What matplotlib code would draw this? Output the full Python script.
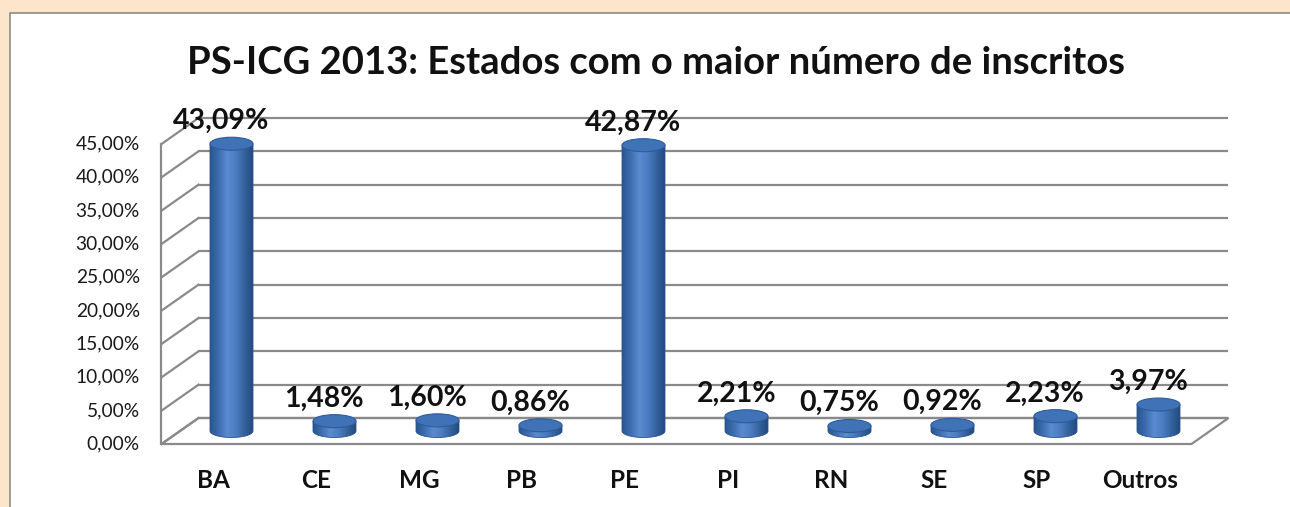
import numpy as np
import matplotlib
matplotlib.use("Agg")
import matplotlib.pyplot as plt
from matplotlib.patches import Ellipse, Polygon, Rectangle, PathPatch
from matplotlib.path import Path
from matplotlib.lines import Line2D
from matplotlib.colors import LinearSegmentedColormap

# ---- data ----
categories = ["BA", "CE", "MG", "PB", "PE", "PI", "RN", "SE", "SP", "Outros"]
values = [43.09, 1.48, 1.60, 0.86, 42.87, 2.21, 0.75, 0.92, 2.23, 3.97]
value_labels = ["43,09%", "1,48%", "1,60%", "0,86%", "42,87%", "2,21%",
                "0,75%", "0,92%", "2,23%", "3,97%"]
yticks = [0, 5, 10, 15, 20, 25, 30, 35, 40, 45]
ytick_labels = ["0,00%", "5,00%", "10,00%", "15,00%", "20,00%", "25,00%",
                "30,00%", "35,00%", "40,00%", "45,00%"]
title = "PS-ICG 2013: Estados com o maior número de inscritos"

# ---- style ----
FONT = ["Lato", "DejaVu Sans"]
W, H = 1290, 507
fig = plt.figure(figsize=(W / 100, H / 100), dpi=100)
fig.patch.set_facecolor("#FDE5CB")

# white chart area (border only on top and left, like the reference)
bx, by = 10 / W, 1 - 13 / H
fig.patches.append(Rectangle((bx, -0.1), 1.2, by + 0.1,
                             transform=fig.transFigure, facecolor="white",
                             edgecolor="none", zorder=-5))
fig.lines.append(Line2D([bx, bx, 1.0], [0, by, by], transform=fig.transFigure,
                        color="#8C8C8C", linewidth=1.2, zorder=-4))

ax = fig.add_axes([0, 0, 1, 1])
ax.set_facecolor("none")
ax.set_zorder(1)
ax.axis("off")
# pixel mapping: category i at x = 213 + 103*i ; 0% at y=444, 45% at y=144
px_per_cat = 103.0
px_per_pct = 300.0 / 45.0
XLIM = (-213 / px_per_cat, (W - 213) / px_per_cat)
YLIM = (-(H - 444) / px_per_pct, 444 / px_per_pct)

n = len(categories)
x0, x1 = -0.5, n - 0.5
ddx, ddy = 37 / px_per_cat, 26 / px_per_pct  # depth offset
grid_c = "#8A8A8A"
lw = 1.6

# floor
ax.add_patch(Polygon([(x0, 0), (x1, 0), (x1 + ddx, ddy), (x0 + ddx, ddy)],
                     closed=True, facecolor="white", edgecolor=grid_c,
                     linewidth=lw, zorder=1))
# back wall grid + side wall diagonals
for t in yticks:
    ax.plot([x0 + ddx, x1 + ddx], [t + ddy, t + ddy], color=grid_c, lw=lw,
            zorder=1, solid_capstyle="butt")
    ax.plot([x0, x0 + ddx], [t, t + ddy], color=grid_c, lw=lw, zorder=1)
ax.plot([x0, x0], [0, yticks[-1]], color=grid_c, lw=lw, zorder=1)

# tick labels
for t, lab in zip(yticks, ytick_labels):
    ax.text(x0 - 0.21, t, lab, ha="right", va="center", fontsize=13.8,
            family=FONT, color="#1a1a1a")

# category labels
for i, c in enumerate(categories):
    ax.text(i, -(480 - 444) / px_per_pct, c, ha="center", va="center",
            fontsize=17.5, fontweight="bold", family=FONT, color="#111111")

# cylinders
body_cmap = LinearSegmentedColormap.from_list(
    "cyl", ["#2A5590", "#3E6DB0", "#5A8BD0", "#4C7DC2", "#35649F", "#234A80"])
grad = np.linspace(0, 1, 64).reshape(1, -1)
bw = 43 / px_per_cat
eh = 13 / px_per_pct
for i, v in enumerate(values):
    cx = i + ddx / 2
    base = ddy / 2
    top = base + v
    left, right = cx - bw / 2, cx + bw / 2
    th = np.linspace(np.pi, 2 * np.pi, 40)
    bot = [(cx + bw / 2 * np.cos(a), base + eh / 2 * np.sin(a)) for a in th]
    verts = [(left, top)] + bot + [(right, top), (left, top)]
    path = Path(verts)
    clip = PathPatch(path, facecolor="none", edgecolor="none",
                     transform=ax.transData)
    ax.add_patch(clip)
    im = ax.imshow(grad, cmap=body_cmap, aspect="auto",
                   extent=(left, right, base - eh, top), zorder=3,
                   interpolation="bilinear")
    im.set_clip_path(clip)
    ax.add_patch(PathPatch(path, facecolor="none", edgecolor="#2B558C",
                           linewidth=0.6, zorder=3.5))
    ax.add_patch(Ellipse((cx, top), bw, eh, facecolor="#4072B8",
                         edgecolor="#2E5C9A", linewidth=0.8, zorder=4))
    ax.text(i + 0.08, top + 3.4, value_labels[i], ha="center", va="center",
            fontsize=20.5, fontweight="bold", family=FONT, color="#111111",
            zorder=5)

ax.set_xlim(*XLIM)
ax.set_ylim(*YLIM)

fig.text(656 / W, 1 - 63 / H, title, ha="center", va="center", fontsize=27.5,
         fontweight="bold", family=FONT, color="#111111", zorder=3)

fig.savefig("out.png", dpi=100, facecolor=fig.get_facecolor())
